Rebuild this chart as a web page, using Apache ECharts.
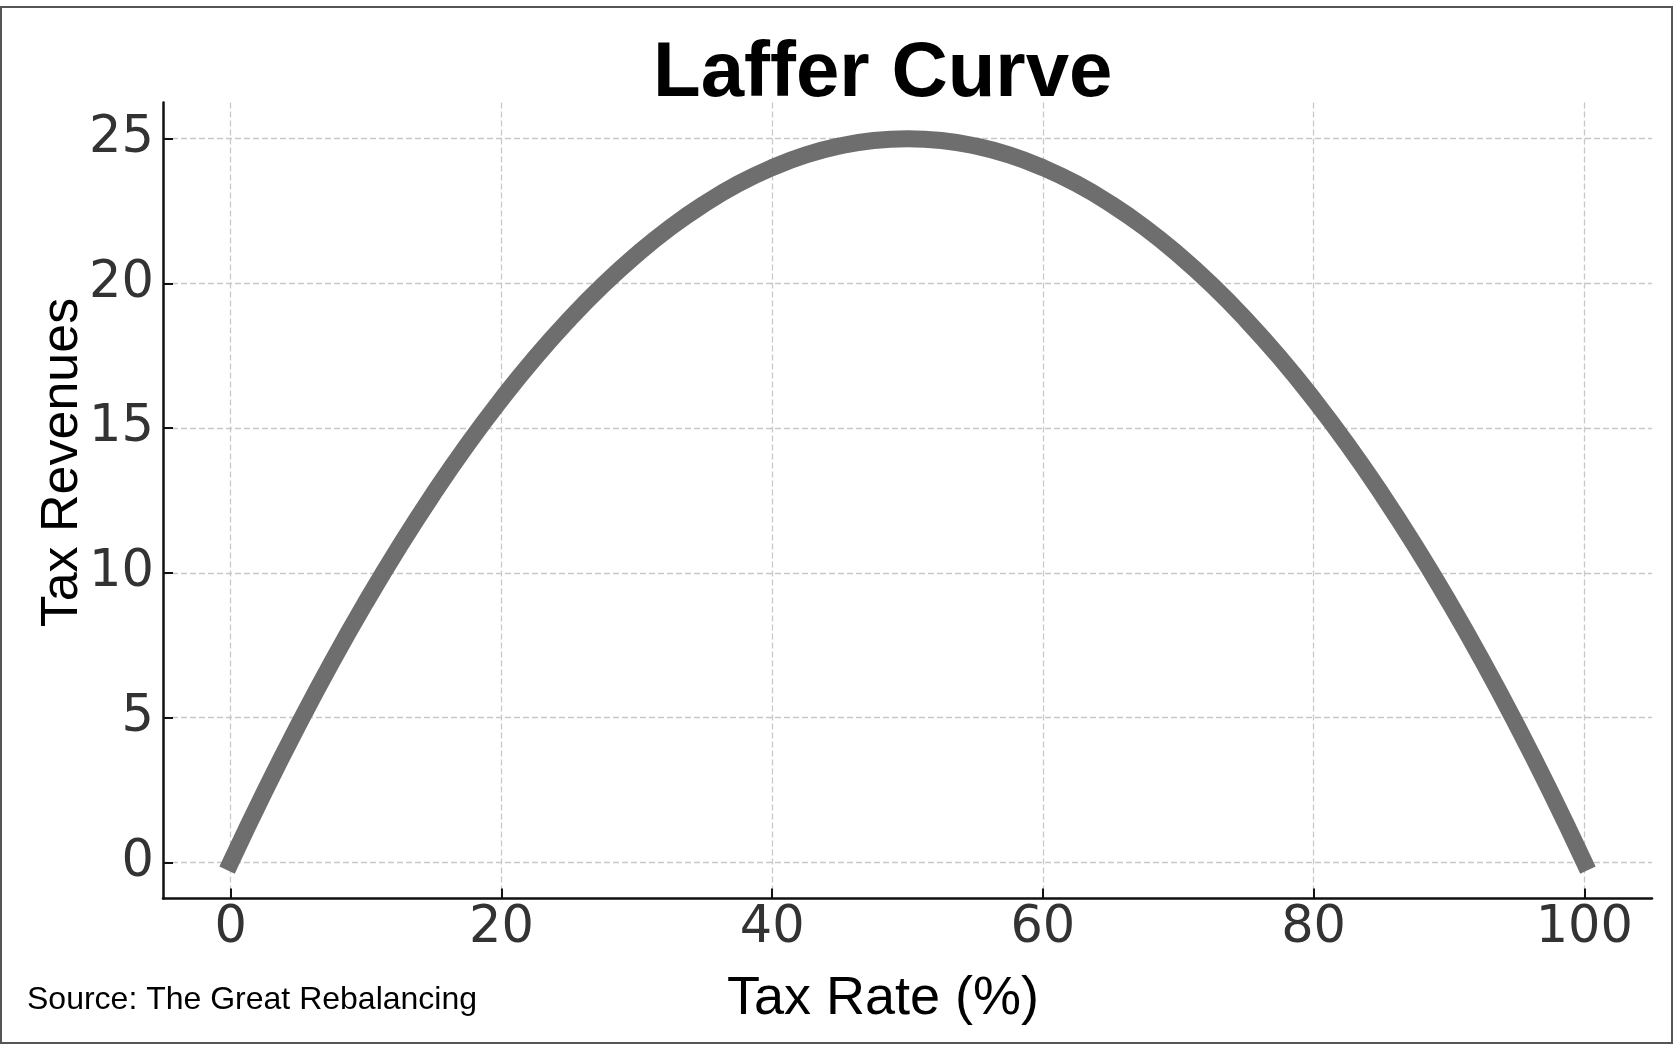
<!DOCTYPE html>
<html>
<head>
<meta charset="utf-8">
<title>Laffer Curve</title>
<script src="https://cdn.jsdelivr.net/npm/echarts@6/dist/echarts.min.js"></script>
<style>
    html, body { margin: 0; padding: 0; background: #fff; }
    #main { width: 1674px; height: 1063px; }
</style>
</head>
<body>
<div id="main"></div>
<script>
// tax rate (%) and revenue
var taxRates = [0, 2.5, 5, 7.5, 10, 12.5, 15, 17.5, 20, 22.5, 25, 27.5, 30, 32.5, 35, 37.5, 40, 42.5, 45, 47.5,
    50, 52.5, 55, 57.5, 60, 62.5, 65, 67.5, 70, 72.5, 75, 77.5, 80, 82.5, 85, 87.5, 90, 92.5, 95, 97.5, 100];
var revenues = [0, 2.44, 4.75, 6.94, 9, 10.94, 12.75, 14.44, 16, 17.44, 18.75, 19.94, 21, 21.94, 22.75, 23.44, 24, 24.44, 24.75, 24.94,
    25, 24.94, 24.75, 24.44, 24, 23.44, 22.75, 21.94, 21, 19.94, 18.75, 17.44, 16, 14.44, 12.75, 10.94, 9, 6.94, 4.75, 2.44, 0];

var xTicks = [0, 20, 40, 60, 80, 100];
var yTicks = [0, 5, 10, 15, 20, 25];

var lineData = [];
taxRates.forEach(function (v, i) {
    lineData.push([v, revenues[i]]);
});

var labelFont = '"Liberation Sans", Arial, sans-serif';
var tickFont = '"DejaVu Sans", Verdana, sans-serif';

var myChart = echarts.init(document.getElementById('main'), null, { renderer: 'canvas' });

var gridLine = {
    show: true,
    lineStyle: { color: '#c8c8c8', width: 1.3, type: [6, 3] }
};

var option = {
    backgroundColor: '#ffffff',
    animation: false,
    title: {
        text: 'Laffer Curve',
        left: 653,
        top: 35,
        padding: 0,
        textStyle: {
            fontFamily: labelFont,
            fontWeight: 'bold',
            fontSize: 78,
            lineHeight: 78,
            color: '#000'
        }
    },
    grid: {
        left: 163,
        right: 22,
        top: 102.5,
        bottom: 164.4,
        containLabel: false
    },
    xAxis: {
        type: 'value',
        min: -5,
        max: 105,
        name: 'Tax Rate (%)',
        nameLocation: 'middle',
        nameGap: 74,
        nameMoveOverlap: false,
        nameTextStyle: {
            fontFamily: labelFont,
            fontSize: 54,
            lineHeight: 54,
            color: '#000',
            padding: [0, 49, 0, 0]
        },
        axisLine: { onZero: false, lineStyle: { color: '#111', width: 2.5 } },
        axisTick: { show: true, inside: true, length: 10, customValues: xTicks,
            lineStyle: { color: '#111', width: 2 } },
        axisLabel: {
            customValues: xTicks,
            margin: 5,
            fontFamily: tickFont,
            fontSize: 51,
            lineHeight: 51,
            color: '#333'
        },
        splitLine: gridLine
    },
    yAxis: {
        type: 'value',
        min: -1.25,
        max: 26.25,
        name: 'Tax Revenues',
        nameLocation: 'middle',
        nameGap: 74,
        nameRotate: 90,
        nameMoveOverlap: false,
        nameTextStyle: {
            fontFamily: labelFont,
            fontSize: 52,
            lineHeight: 52,
            color: '#000',
            padding: [0, 0, 0, 76]
        },
        axisLine: { show: true, onZero: false, lineStyle: { color: '#111', width: 2.5 } },
        axisTick: { show: true, inside: true, length: 10, customValues: yTicks,
            lineStyle: { color: '#111', width: 2 } },
        axisLabel: {
            customValues: yTicks,
            margin: 9,
            fontFamily: tickFont,
            fontSize: 51,
            lineHeight: 51,
            color: '#333'
        },
        splitLine: gridLine
    },
    series: [
        {
            name: 'Laffer Curve',
            type: 'line',
            data: lineData,
            smooth: true,
            showSymbol: false,
            symbol: 'none',
            lineStyle: { color: '#6e6e6e', width: 17, cap: 'square' }
        }
    ],
    graphic: [
        {
            // source note
            type: 'text',
            left: 27,
            top: 984,
            style: {
                text: 'Source: The Great Rebalancing',
                font: '32px "Liberation Sans", Arial, sans-serif',
                fill: '#000'
            }
        },
        {
            // figure frame
            type: 'rect',
            shape: { x: 1, y: 7, width: 1671, height: 1036 },
            style: { fill: null, stroke: '#555', lineWidth: 2 },
            silent: true
        }
    ]
};

myChart.setOption(option);
</script>
</body>
</html>
